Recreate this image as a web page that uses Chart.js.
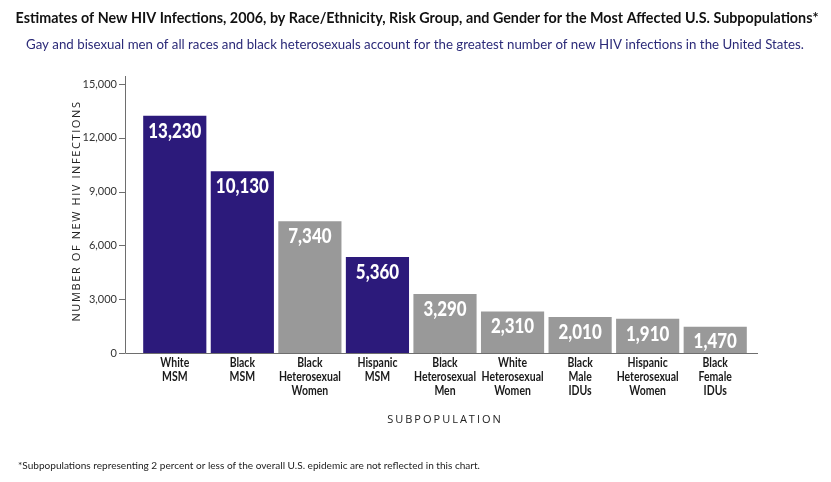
<!DOCTYPE html>
<html>
<head>
<meta charset="utf-8">
<script src="https://cdn.jsdelivr.net/npm/chart.js@4"></script>
<style>
  html, body { margin: 0; padding: 0; background: #fff; }
  #wrap { width: 831px; height: 482px; }
</style>
</head>
<body>
<div id="wrap"><canvas id="hivChart" width="831" height="482"></canvas></div>
<script>
const categories = [
  ["White", "MSM"],
  ["Black", "MSM"],
  ["Black", "Heterosexual", "Women"],
  ["Hispanic", "MSM"],
  ["Black", "Heterosexual", "Men"],
  ["White", "Heterosexual", "Women"],
  ["Black", "Male", "IDUs"],
  ["Hispanic", "Heterosexual", "Women"],
  ["Black", "Female", "IDUs"]
];
const infections = [13230, 10130, 7340, 5360, 3290, 2310, 2010, 1910, 1470];
const isMSM = [true, true, false, true, false, false, false, false, false];
const yTicks = [0, 3000, 6000, 9000, 12000, 15000];

const titleText = "Estimates of New HIV Infections, 2006, by Race/Ethnicity, Risk Group, and Gender for the Most Affected U.S. Subpopulations*";
const subtitleText = "Gay and bisexual men of all races and black heterosexuals account for the greatest number of new HIV infections in the United States.";
const footnoteText = "*Subpopulations representing 2 percent or less of the overall U.S. epidemic are not reflected in this chart.";

const purple = "#2c1a7b";
const gray = "#999999";
const axisColor = "#6e6e6e";
const face = "Lato, 'Open Sans', sans-serif";

// squeeze text horizontally by factor sx
function squeezed(ctx, text, x, y, sx) {
  ctx.save();
  ctx.translate(x, y);
  ctx.scale(sx, 1);
  ctx.fillText(text, 0, 0);
  ctx.restore();
}
function fitWidth(ctx, text, x, y, w) {
  squeezed(ctx, text, x, y, w / ctx.measureText(text).width);
}

// axes, labels and page text drawn by hand
const extras = {
  id: "extras",
  afterDatasetsDraw(chart) {
    const { ctx, chartArea, scales } = chart;
    const y = scales.y, x = scales.x;
    const axisX = chartArea.left - 16;
    ctx.save();

    // value labels inside bars
    const meta = chart.getDatasetMeta(0);
    ctx.fillStyle = "#fff";
    ctx.font = "900 21px " + face;
    ctx.textAlign = "center";
    ctx.textBaseline = "middle";
    const vs = 53 / ctx.measureText("13,230").width;
    meta.data.forEach((bar, i) => {
      squeezed(ctx, infections[i].toLocaleString("en-US"), bar.x, bar.y + 15, vs);
    });

    // category labels
    ctx.fillStyle = "#1a1a1a";
    ctx.font = "bold 13px " + face;
    const cs = 62 / ctx.measureText("Heterosexual").width;
    categories.forEach((lines, i) => {
      const px = x.getPixelForTick(i);
      lines.forEach((t, j) => squeezed(ctx, t, px, chartArea.bottom + 10 + j * 13.8, cs));
    });

    // axis lines
    ctx.strokeStyle = axisColor;
    ctx.lineWidth = 1;
    ctx.beginPath();
    ctx.moveTo(axisX + 0.5, chartArea.top - 8);
    ctx.lineTo(axisX + 0.5, chartArea.bottom + 0.5);
    ctx.lineTo(chartArea.right + 9, chartArea.bottom + 0.5);
    yTicks.forEach(v => {
      const py = Math.round(y.getPixelForValue(v)) + 0.5;
      ctx.moveTo(axisX - 6, py);
      ctx.lineTo(axisX, py);
    });
    ctx.stroke();

    ctx.fillStyle = "#222";

    // y axis title
    ctx.save();
    ctx.translate(77, 211);
    ctx.rotate(-Math.PI / 2);
    ctx.font = "11px 'Open Sans', sans-serif";
    ctx.letterSpacing = "1.6px";
    ctx.textAlign = "center";
    ctx.fillText("NUMBER OF NEW HIV INFECTIONS", 0, 0);
    ctx.restore();

    // x axis title
    ctx.font = "11px 'Open Sans', sans-serif";
    ctx.letterSpacing = "2px";
    ctx.textAlign = "center";
    ctx.fillText("SUBPOPULATION", (chartArea.left + chartArea.right) / 2, 420);
    ctx.letterSpacing = "0px";

    // title, subtitle, footnote
    ctx.fillStyle = "#111";
    ctx.font = "bold 16px " + face;
    fitWidth(ctx, titleText, 417, 18, 803);
    ctx.fillStyle = "#2b2a78";
    ctx.font = "14px " + face;
    fitWidth(ctx, subtitleText, 415, 44, 778);
    ctx.fillStyle = "#222";
    ctx.font = "10px " + face;
    ctx.textAlign = "left";
    fitWidth(ctx, footnoteText, 18, 466, 462);
    ctx.restore();
  }
};

new Chart(document.getElementById("hivChart"), {
  type: "bar",
  data: {
    labels: categories,
    datasets: [{
      data: infections,
      backgroundColor: isMSM.map(m => (m ? purple : gray)),
      barPercentage: 0.935,
      categoryPercentage: 1
    }]
  },
  options: {
    responsive: false,
    animation: false,
    layout: { padding: { top: 84, right: 82, left: 0, bottom: 0 } },
    plugins: {
      legend: { display: false },
      tooltip: { enabled: false }
    },
    scales: {
      x: {
        grid: { display: false, drawTicks: false },
        border: { display: false },
        ticks: { display: false },
        afterFit: s => { s.height = 482 - 353; }
      },
      y: {
        min: 0,
        max: 15000,
        grid: { display: false, drawTicks: false },
        border: { display: false },
        afterBuildTicks: s => { s.ticks = yTicks.map(v => ({ value: v })); },
        afterFit: s => { s.width = 141; },
        ticks: {
          padding: 24,
          color: "#333",
          font: { family: face, size: 11 },
          callback: v => v.toLocaleString("en-US")
        }
      }
    }
  },
  plugins: [extras]
});
</script>
</body>
</html>
